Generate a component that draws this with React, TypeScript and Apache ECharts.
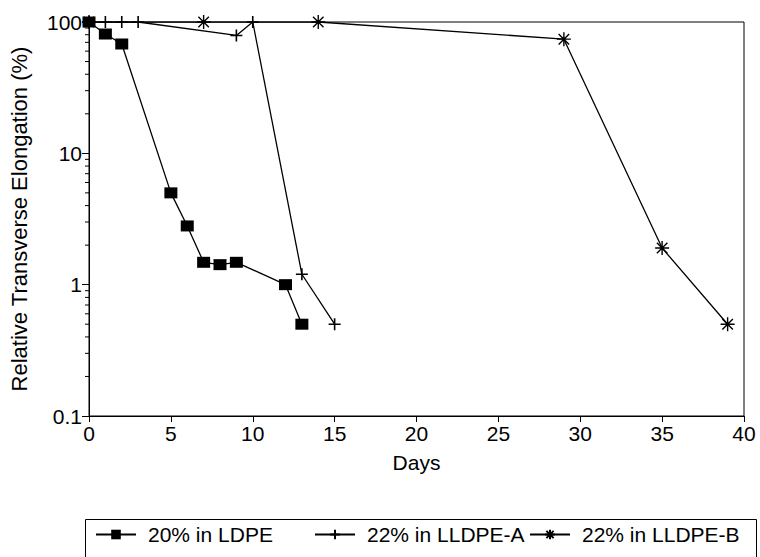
import React, { useEffect, useRef } from "react";
import * as echarts from "echarts";

const ldpeDays = [0, 1, 2, 5, 6, 7, 8, 9, 12, 13];
const ldpeValues = [100, 81, 68, 5.0, 2.8, 1.48, 1.42, 1.48, 1.0, 0.5];

const lldpeADays = [0, 1, 2, 3, 9, 10, 13, 15];
const lldpeAValues = [100, 100, 100, 100, 79, 100, 1.2, 0.5];

const lldpeBDays = [0, 7, 14, 29, 35, 39];
const lldpeBValues = [100, 100, 100, 74, 1.9, 0.5];

const minorTickValues = [0.2, 0.3, 0.4, 0.5, 0.6, 0.7, 0.8, 0.9, 2, 3, 4, 5, 6, 7, 8, 9, 20, 30, 40, 50, 60, 70, 80, 90];

const seriesNames = ["20% in LDPE", "22% in LLDPE-A", "22% in LLDPE-B"];

const FONT = "'Liberation Sans', Arial, Helvetica, sans-serif";

const plusPath = "path://M0,6L12,6M6,0L6,12";
const starPath = "path://M0,6L12,6M6,0L6,12M1.5,1.5L10.5,10.5M1.5,10.5L10.5,1.5";

function pairs(xs: number[], ys: number[]) {
  return xs.map((x, i) => [x, ys[i]]);
}

function legendAt(name: string, left: number) {
  return {
    data: [name],
    left,
    top: 524,
    itemWidth: 40,
    itemHeight: 12,
    itemGap: 0,
    padding: 0,
    textStyle: { fontSize: 21, color: "#000", fontFamily: FONT, padding: [0, 0, 0, 7] },
  };
}

export default function App() {
  const ref = useRef<HTMLDivElement>(null);
  useEffect(() => {
    if (!ref.current) return;
    const chart = echarts.init(ref.current, null, { renderer: "svg" });
    const lineStyle = { color: "#000", width: 1.3 };
    const option: any = {
      animation: false,
      backgroundColor: "#fff",
      textStyle: { fontFamily: FONT, color: "#000" },
      grid: {
        left: 88,
        right: 16,
        top: 22,
        bottom: 141,
        show: true,
        borderColor: "#000",
        borderWidth: 1,
        containLabel: false,
      },
      xAxis: {
        type: "value",
        min: 0,
        max: 40,
        interval: 5,
        name: "Days",
        nameLocation: "middle",
        nameGap: 36,
        nameTextStyle: { fontSize: 21, color: "#000", fontFamily: FONT },
        axisLine: { show: true, lineStyle: { color: "#000", width: 1 } },
        axisTick: { show: true, inside: false, length: 6, lineStyle: { color: "#000" } },
        axisLabel: { fontSize: 21, color: "#000", fontFamily: FONT, margin: 7 },
        splitLine: { show: false },
      },
      yAxis: {
        type: "log",
        logBase: 10,
        min: 0.1,
        max: 100,
        name: "Relative Transverse Elongation (%)",
        nameLocation: "middle",
        nameGap: 59,
        nameRotate: 90,
        nameTextStyle: { fontSize: 22, color: "#000", fontFamily: FONT },
        axisLine: { show: true, lineStyle: { color: "#000", width: 1 } },
        axisTick: { show: true, inside: false, length: 7, lineStyle: { color: "#000" } },
        axisLabel: { fontSize: 21, color: "#000", fontFamily: FONT, margin: 7 },
        splitLine: { show: false },
      },
      legend: [
        legendAt(seriesNames[0], 95),
        legendAt(seriesNames[1], 314),
        legendAt(seriesNames[2], 529),
      ],
      graphic: [
        {
          type: "rect",
          shape: { x: 85.5, y: 519.5, width: 671, height: 60 },
          style: { fill: "none", stroke: "#000", lineWidth: 1 },
          silent: true,
        },
      ],
      series: [
        {
          name: seriesNames[0],
          type: "line",
          data: pairs(ldpeDays, ldpeValues),
          symbol: "rect",
          symbolSize: [13, 11],
          lineStyle,
          itemStyle: { color: "#000" },
          z: 3,
        },
        {
          name: seriesNames[1],
          type: "line",
          data: pairs(lldpeADays, lldpeAValues),
          symbol: plusPath,
          symbolSize: 12,
          lineStyle,
          itemStyle: { color: "#000", borderColor: "#000", borderWidth: 1.6 },
          z: 2,
        },
        {
          name: seriesNames[2],
          type: "line",
          data: pairs(lldpeBDays, lldpeBValues),
          symbol: starPath,
          symbolSize: 14,
          lineStyle,
          itemStyle: { color: "#000", borderColor: "#000", borderWidth: 1.4 },
          z: 2,
        },
        {
          type: "custom",
          silent: true,
          clip: false,
          data: minorTickValues.map((v) => [0, v]),
          renderItem: (params: any, api: any) => {
            const p = api.coord([0, api.value(1)]);
            return {
              type: "line",
              shape: { x1: p[0] - 4, y1: p[1], x2: p[0], y2: p[1] },
              style: { stroke: "#000", lineWidth: 1 },
            };
          },
          z: 1,
        },
      ],
    };
    chart.setOption(option);
    return () => chart.dispose();
  }, []);
  return <div ref={ref} style={{ width: 760, height: 557, position: "absolute", left: 0, top: 0 }} />;
}
